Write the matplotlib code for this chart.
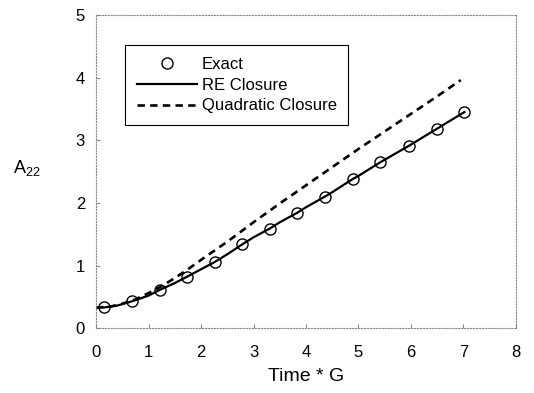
import matplotlib
matplotlib.use("Agg")
import matplotlib.pyplot as plt

plt.rcParams['font.family'] = ['Liberation Sans', 'DejaVu Sans']
plt.rcParams['mathtext.default'] = 'regular'

# Exact solution (circles)
t_exact = [0.15, 0.69, 1.21, 1.73, 2.27, 2.79, 3.31, 3.83, 4.36, 4.89, 5.42, 5.96, 6.49, 7.02]
a_exact = [0.33, 0.43, 0.61, 0.82, 1.06, 1.34, 1.59, 1.84, 2.10, 2.38, 2.65, 2.91, 3.18, 3.45]

# RE closure (solid)
t_re = [0.0, 0.15, 0.4, 0.69, 1.0, 1.21, 1.5, 1.73, 2.0, 2.27, 2.5, 2.79, 3.0, 3.31, 3.5,
        3.83, 4.0, 4.36, 4.5, 4.89, 5.0, 5.42, 5.96, 6.49, 7.02]
a_re = [0.33, 0.33, 0.36, 0.43, 0.52, 0.61, 0.72, 0.82, 0.94, 1.06, 1.18, 1.34, 1.45, 1.59, 1.69,
        1.84, 1.93, 2.10, 2.17, 2.38, 2.43, 2.65, 2.91, 3.18, 3.45]

# Quadratic closure (dashed)
t_quad = [0.0, 0.25, 0.5, 0.75, 1.0, 1.25, 1.5, 1.75, 2.0, 2.5, 3.0, 3.5, 4.0, 4.5, 5.0, 5.5, 6.0, 6.5, 6.95]
a_quad = [0.33, 0.34, 0.39, 0.46, 0.56, 0.67, 0.80, 0.94, 1.09, 1.38, 1.69, 1.99, 2.28, 2.57, 2.86, 3.14, 3.42, 3.70, 3.96]

fig = plt.figure(figsize=(5.34, 3.93), dpi=100)
ax = fig.add_axes([0.180, 0.165, 0.786, 0.797])

ax.plot(t_exact, a_exact, linestyle='none', marker='o', markersize=8,
        markerfacecolor='none', markeredgecolor='black', markeredgewidth=1.0, label='Exact')
ax.plot(t_re, a_re, color='black', linewidth=1.6, label='RE Closure')
ax.plot(t_quad, a_quad, color='black', linewidth=1.9, dashes=(2.8, 2.0), label='Quadratic Closure')

ax.set_xlim(0, 8)
ax.set_ylim(0, 5)
ax.set_xticks(range(0, 9))
ax.set_yticks(range(0, 6))

for s in ax.spines.values():
    s.set_linestyle(':')
    s.set_color('#888888')
    s.set_linewidth(0.8)

ax.tick_params(axis='both', direction='in', length=3, color='#888888', labelsize=12)
ax.tick_params(axis='x', pad=12)
ax.tick_params(axis='y', pad=8)

ax.set_xlabel('Time * G', fontsize=14, labelpad=6)
ax.set_ylabel('A$_{22}$', fontsize=13, rotation=0)
ax.yaxis.set_label_coords(-0.165, 0.48)

leg = ax.legend(loc='upper left', bbox_to_anchor=(0.069, 0.904), borderaxespad=0,
                fontsize=12, numpoints=1, handlelength=3.6, labelspacing=0.35,
                handletextpad=0.3, fancybox=False, framealpha=1, borderpad=0.7)
leg.get_frame().set_edgecolor('black')
leg.get_frame().set_linewidth(0.8)

fig.savefig('out.png', dpi=100)
